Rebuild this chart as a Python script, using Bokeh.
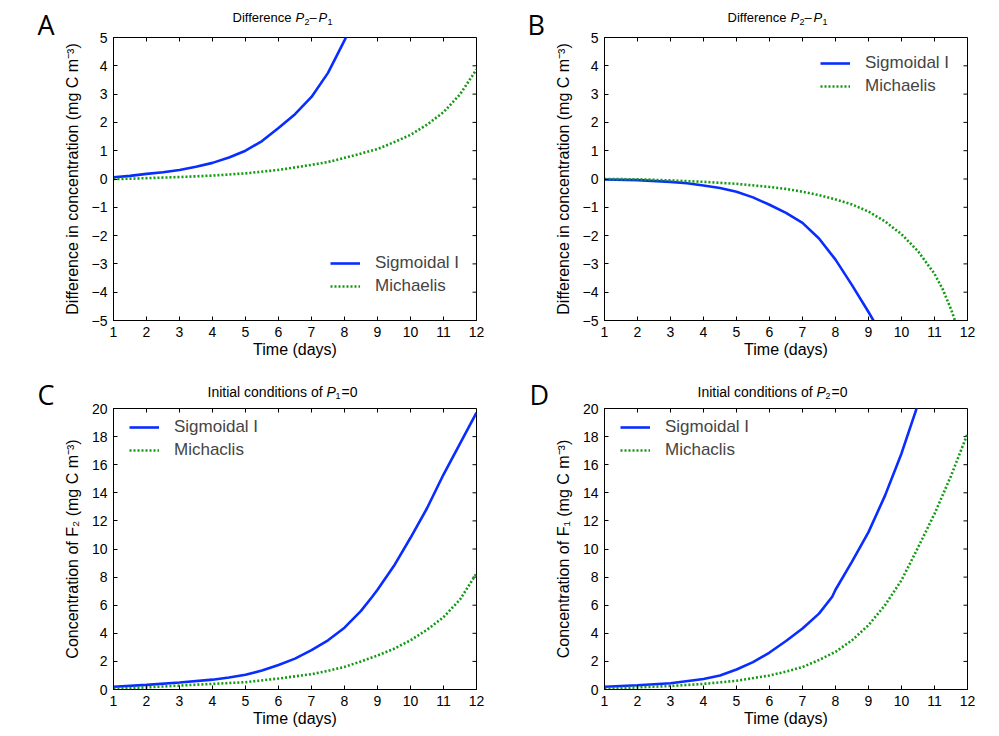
from bokeh.plotting import figure
from bokeh.layouts import column, row
from bokeh.models import Range1d, FixedTicker, Label, Legend, LegendItem
from bokeh.embed import file_html
from bokeh.resources import INLINE

# ---- data ----
day_ticks = list(range(1, 13))
diff_ticks = list(range(-5, 6))
conc_ticks = list(range(0, 21, 2))

# Panel A: difference P2 - P1
a_sig_x = [1, 1.5, 2, 2.5, 3, 3.5, 4, 4.5, 5, 5.5, 6, 6.5, 7, 7.5, 8, 8.2]
a_sig_y = [0.06, 0.11, 0.18, 0.24, 0.32, 0.43, 0.57, 0.76, 1.0, 1.34, 1.8, 2.29, 2.9, 3.75, 4.9, 5.4]
a_mic_x = [1, 1.5, 2, 3, 4, 5, 6, 7, 7.5, 8, 8.5, 9, 9.5, 10, 10.5, 11, 11.5, 12]
a_mic_y = [0.0, 0.01, 0.03, 0.07, 0.12, 0.2, 0.32, 0.5, 0.6, 0.75, 0.9, 1.06, 1.3, 1.56, 1.92, 2.36, 2.99, 3.87]

# Panel B: difference P2 - P1
b_sig_x = [1, 2, 3, 3.5, 4, 4.5, 5, 5.5, 6, 6.5, 7, 7.5, 8, 8.5, 9, 9.3]
b_sig_y = [-0.02, -0.04, -0.1, -0.15, -0.23, -0.32, -0.45, -0.65, -0.91, -1.2, -1.55, -2.1, -2.85, -3.75, -4.7, -5.3]
b_mic_x = [1, 2, 3, 4, 5, 6, 6.5, 7, 7.5, 8, 8.5, 9, 9.5, 10, 10.5, 11, 11.25, 11.5, 11.65]
b_mic_y = [0.0, -0.01, -0.05, -0.1, -0.17, -0.28, -0.35, -0.45, -0.57, -0.72, -0.9, -1.15, -1.5, -1.95, -2.55, -3.35, -3.9, -4.6, -5.1]

# Panel C: initial conditions P1 = 0
c_sig_x = [1, 2, 3, 4, 4.5, 5, 5.5, 6, 6.5, 7, 7.5, 8, 8.5, 8.84, 9, 9.5, 10, 10.5, 11, 11.5, 12]
c_sig_y = [0.2, 0.33, 0.5, 0.7, 0.85, 1.05, 1.35, 1.75, 2.2, 2.8, 3.5, 4.4, 5.6, 6.6, 7.1, 8.8, 10.8, 12.9, 15.3, 17.5, 19.7]
c_mic_x = [1, 2, 3, 4, 5, 6, 7, 7.5, 8, 8.5, 9, 9.5, 10, 10.5, 11, 11.5, 12]
c_mic_y = [0.05, 0.15, 0.28, 0.4, 0.52, 0.78, 1.09, 1.33, 1.61, 2.0, 2.42, 2.9, 3.5, 4.25, 5.15, 6.4, 8.26]

# Panel D: initial conditions P2 = 0
d_sig_x = [1, 2, 3, 4, 4.5, 5, 5.5, 6, 6.5, 7, 7.5, 7.9, 8, 8.5, 9, 9.5, 10, 10.5]
d_sig_y = [0.2, 0.3, 0.45, 0.75, 1.0, 1.42, 1.95, 2.63, 3.45, 4.34, 5.4, 6.6, 7.1, 9.1, 11.2, 13.8, 16.8, 20.3]
d_mic_x = [1, 2, 3, 4, 5, 6, 6.5, 7, 7.5, 8, 8.5, 9, 9.5, 10, 10.5, 11, 11.5, 12]
d_mic_y = [0.05, 0.15, 0.25, 0.4, 0.62, 1.0, 1.27, 1.6, 2.1, 2.68, 3.5, 4.58, 6.0, 7.78, 10.1, 12.5, 15.2, 18.2]

SIG_COLOR = "#0a2dff"
MIC_COLOR = "#129a12"
FONT = "Liberation Sans"
TICK_LEN = 4  # px, ticks point into the box


def make_panel(width, height, yr, yticks, ylabel, border, sig, mic, mic_name, legend_loc):
    left, right, top, bottom = border
    p = figure(width=width, height=height, output_backend="svg", toolbar_location=None,
               x_range=Range1d(1, 12), y_range=Range1d(*yr),
               min_border_left=left, min_border_right=right,
               min_border_top=top, min_border_bottom=bottom)
    p.grid.visible = False
    p.outline_line_color = "black"
    p.outline_line_width = 1
    p.background_fill_color = "white"
    p.border_fill_color = "white"

    for ax, ticks in ((p.xaxis[0], day_ticks), (p.yaxis[0], yticks)):
        ax.ticker = FixedTicker(ticks=ticks)
        ax.minor_tick_line_color = None
        ax.major_tick_in = TICK_LEN
        ax.major_tick_out = 0
        ax.axis_line_color = "black"
        ax.major_label_text_font = FONT
        ax.major_label_text_font_size = "14px"
        ax.major_label_text_color = "black"
        ax.axis_label_text_font = FONT
        ax.axis_label_text_font_size = "16px"
        ax.axis_label_text_font_style = "normal"
        ax.axis_label_text_color = "black"
    p.xaxis.axis_label = "Time (days)"
    p.xaxis.major_label_standoff = 6
    p.xaxis.axis_label_standoff = 1
    p.yaxis.axis_label = ylabel
    p.yaxis.major_label_standoff = 6
    p.yaxis.axis_label_standoff = 8

    # inward tick marks along the top and right edges of the box
    frame_w = width - left - right
    frame_h = height - top - bottom
    dy = TICK_LEN * (yr[1] - yr[0]) / frame_h
    dx = TICK_LEN * (12 - 1) / frame_w
    p.segment(x0=day_ticks, x1=day_ticks, y0=[yr[1]] * len(day_ticks),
              y1=[yr[1] - dy] * len(day_ticks), line_color="black", line_width=1)
    p.segment(x0=[12] * len(yticks), x1=[12 - dx] * len(yticks), y0=yticks, y1=yticks,
              line_color="black", line_width=1)

    r_sig = p.line(sig[0], sig[1], line_color=SIG_COLOR, line_width=2.6)
    r_mic = p.line(mic[0], mic[1], line_color=MIC_COLOR, line_width=2.6, line_dash="2 2")

    legend = Legend(items=[LegendItem(label="Sigmoidal I", renderers=[r_sig]),
                           LegendItem(label=mic_name, renderers=[r_mic])],
                    location=legend_loc, background_fill_alpha=0, border_line_alpha=0,
                    padding=0, margin=0, spacing=3, glyph_width=30, glyph_height=20,
                    label_height=20, label_standoff=15,
                    label_text_font=FONT, label_text_font_size="17px")
    p.add_layout(legend, "center")
    return p


def blank(width, height, left=0, right=0):
    """Axis-free figure whose data units are pixels of its frame."""
    fw = width - left - right
    s = figure(width=width, height=height, output_backend="svg", toolbar_location=None,
               x_range=Range1d(0, fw), y_range=Range1d(0, height),
               x_axis_type=None, y_axis_type=None, min_border=0,
               min_border_left=left, min_border_right=right)
    s.outline_line_color = None
    s.grid.visible = False
    return s


def letter_column(width, height, letter, x, y):
    s = blank(width, height)
    s.add_layout(Label(x=x, y=y, text=letter, text_font="Open Sans", text_font_size="27px",
                       text_baseline="middle", text_color="black"))
    return s


def title_strip(width, height, left, right, pieces):
    # x offsets are measured from the left edge of the panel box below
    s = blank(width, height, left, right)
    for x, y, text, style, size in pieces:
        s.add_layout(Label(x=x, y=y, text=text, text_font=FONT, text_font_size=size,
                           text_font_style=style, text_baseline="middle",
                           text_color="black"))
    return s


ylab_diff = "Difference in concentration (mg C m\u207b\u00b3)"

pA = make_panel(442, 339, (-5, 5), diff_ticks, ylab_diff, (55, 24, 8, 48),
                (a_sig_x, a_sig_y), (a_mic_x, a_mic_y), "Michaelis", (217, 24))
pB = make_panel(449, 339, (-5, 5), diff_ticks, ylab_diff, (54, 32, 8, 48),
                (b_sig_x, b_sig_y), (b_mic_x, b_mic_y), "Michaelis", (216, 224))
pC = make_panel(442, 336, (0, 20), conc_ticks,
                "Concentration of F\u2082 (mg C m\u207b\u00b3)", (55, 24, 8, 47),
                (c_sig_x, c_sig_y), (c_mic_x, c_mic_y), "Michaclis", (16, 229))
pD = make_panel(449, 336, (0, 20), conc_ticks,
                "Concentration of F\u2081 (mg C m\u207b\u00b3)", (54, 32, 8, 47),
                (d_sig_x, d_sig_y), (d_mic_x, d_mic_y), "Michaclis", (16, 229))

T1, T2, I, SUB = "13px", "14px", "italic", "9px"
tA = title_strip(442, 29, 55, 24, [
    (119, 12, "Difference", "normal", T1), (182, 12, "P", I, T1), (191, 8, "2", "normal", SUB),
    (196, 12, "\u2013", "normal", T1), (205, 12, "P", I, T1), (214, 8, "1", "normal", SUB)])
tB = title_strip(449, 29, 54, 32, [
    (123, 12, "Difference", "normal", T1), (186, 12, "P", I, T1), (195, 8, "2", "normal", SUB),
    (200, 12, "\u2013", "normal", T1), (209, 12, "P", I, T1), (218, 8, "1", "normal", SUB)])
tC = title_strip(442, 32, 55, 24, [
    (94, 9, "Initial conditions of", "normal", T2), (213, 9, "P", I, T2),
    (222, 5, "1", "normal", SUB), (228, 9, "=0", "normal", T2)])
tD = title_strip(449, 32, 54, 32, [
    (93, 9, "Initial conditions of", "normal", T2), (212, 9, "P", I, T2),
    (221, 5, "2", "normal", SUB), (227, 9, "=0", "normal", T2)])

lA = letter_column(58, 368, "A", 37, 344)
lB = letter_column(50, 368, "B", 27, 344)
lC = letter_column(58, 368, "C", 37, 342)
lD = letter_column(50, 368, "D", 29, 342)

page = column(
    row(lA, column(tA, pA), lB, column(tB, pB)),
    row(lC, column(tC, pC), lD, column(tD, pD)),
)

open("out.html", "w").write(file_html(page, INLINE))
